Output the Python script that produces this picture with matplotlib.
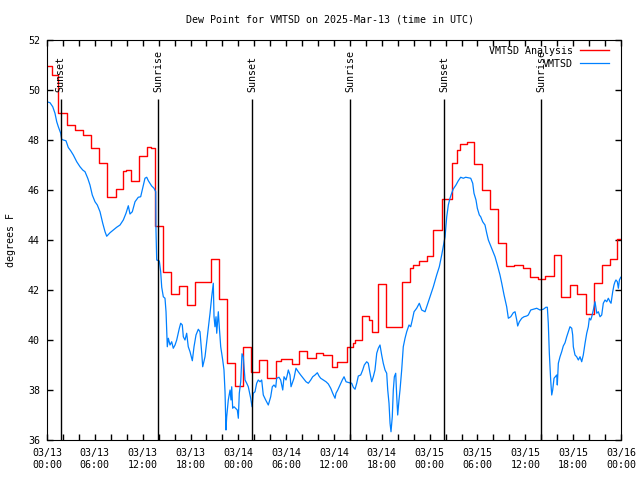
import matplotlib
matplotlib.use('Agg')
import matplotlib.pyplot as plt

# hours since 2025-03-13 00:00 UTC
analysis_t = [0.0, 0.59, 1.42, 2.47, 3.51, 4.55, 5.48, 6.52, 7.56, 8.62, 9.5, 9.91,
              10.5, 11.54, 12.51, 13.01, 13.55, 14.51, 15.52, 16.56, 17.52, 18.56,
              20.53, 21.58, 22.62, 23.58, 24.62, 25.55, 26.59, 27.63, 28.69, 29.31,
              30.69, 31.65, 32.65, 33.71, 34.66, 35.71, 36.41, 37.59, 38.42, 38.63,
              39.47, 40.43, 40.73, 41.56, 42.49, 44.49, 45.53, 45.95, 46.66, 47.63,
              48.46, 49.51, 50.76, 51.39, 51.81, 52.65, 53.56, 54.53, 55.57, 56.57,
              57.58, 58.58, 59.65, 60.63, 61.59, 62.51, 63.6, 64.48, 65.6, 66.44,
              67.57, 68.62, 69.66, 70.62, 71.54, 72.0]
analysis_v = [50.96, 50.59, 49.07, 48.6, 48.4, 48.2, 47.67, 47.07, 45.73, 46.04, 46.77, 46.8,
              46.37, 47.36, 47.71, 47.67, 44.56, 42.73, 41.84, 42.17, 41.4, 42.33,
              43.24, 41.64, 39.07, 38.16, 39.71, 38.7, 39.2, 38.48, 39.15, 39.23,
              39.04, 39.55, 39.28, 39.47, 39.39, 38.93, 39.11, 39.71, 39.87, 40.0,
              40.96, 40.8, 40.33, 42.24, 40.53, 42.33, 42.87, 43.0, 43.17, 43.37,
              44.4, 45.63, 47.09, 47.6, 47.84, 47.91, 47.04, 46.0, 45.24, 43.87,
              42.97, 43.0, 42.87, 42.51, 42.45, 42.55, 43.4, 41.73, 42.2, 41.84,
              41.03, 42.29, 43.0, 43.23, 44.03, 44.03]

obs_t = [0.0, 0.38, 0.72, 1.0, 1.22, 1.42, 1.72, 1.84, 2.04, 2.38, 2.67, 2.97, 3.3, 3.73,
         4.14, 4.48, 4.77, 5.11, 5.39, 5.68, 6.02, 6.31, 6.65, 6.99, 7.28, 7.49, 7.9,
         8.32, 8.74, 9.16, 9.57, 9.91, 10.2, 10.41, 10.7, 11.04, 11.45, 11.75, 12.0,
         12.29, 12.51, 12.71, 13.13, 13.42, 13.64, 13.67, 13.76, 14.09, 14.26, 14.39,
         14.59, 14.8, 14.93, 15.02, 15.09, 15.22, 15.43, 15.64, 15.84, 16.06, 16.27,
         16.6, 16.77, 16.97, 17.1, 17.31, 17.52, 17.72, 17.94, 18.23, 18.44, 18.69,
         18.98, 19.19, 19.41, 19.53, 19.82, 20.03, 20.23, 20.45, 20.66, 20.86, 20.95,
         21.07, 21.2, 21.29, 21.49, 21.61, 21.79, 22.04, 22.2, 22.33, 22.45, 22.54,
         22.74, 22.96, 23.08, 23.17, 23.29, 23.46, 23.87, 24.0, 24.12, 24.3, 24.46,
         24.62, 24.84, 25.05, 25.25, 25.55, 25.72, 25.88, 26.09, 26.3, 26.5, 26.72,
         26.93, 27.13, 27.43, 27.76, 28.06, 28.26, 28.47, 28.69, 28.81, 29.1, 29.31,
         29.57, 29.73, 29.98, 30.14, 30.27, 30.48, 30.61, 30.82, 30.98, 31.23, 31.52,
         31.82, 32.15, 32.49, 32.78, 33.08, 33.33, 33.62, 33.91, 34.12, 34.33, 34.66,
         35.0, 35.29, 35.59, 35.84, 36.13, 36.25, 36.47, 36.75, 37.04, 37.26, 37.51,
         37.92, 38.22, 38.42, 38.64, 38.85, 39.05, 39.35, 39.6, 39.8, 40.1, 40.3,
         40.52, 40.73, 40.93, 41.14, 41.36, 41.56, 41.77, 41.98, 42.18, 42.4, 42.61,
         42.74, 42.9, 43.03, 43.15, 43.31, 43.44, 43.57, 43.74, 43.87, 43.99, 44.15,
         44.28, 44.49, 44.69, 44.91, 45.12, 45.41, 45.62, 45.82, 46.04, 46.37, 46.7,
         47.0, 47.42, 47.7, 48.04, 48.46, 48.88, 49.21, 49.51, 49.93, 50.14, 50.34,
         50.55, 50.76, 50.96, 51.3, 51.59, 51.89, 52.22, 52.52, 52.85, 53.15, 53.4,
         53.56, 53.81, 53.98, 54.23, 54.4, 54.65, 54.94, 55.16, 55.36, 55.78, 56.2,
         56.49, 56.82, 57.04, 57.33, 57.66, 57.87, 58.17, 58.49, 58.71, 58.92, 59.04,
         59.25, 59.55, 59.83, 60.17, 60.37, 60.68, 61.0, 61.43, 61.84, 62.26, 62.59,
         62.76, 62.88, 63.01, 63.18, 63.31, 63.43, 63.6, 63.76, 63.94, 64.01, 64.14,
         64.35, 64.56, 64.76, 64.98, 65.19, 65.39, 65.6, 65.82, 65.94, 66.02, 66.23,
         66.44, 66.65, 66.86, 67.07, 67.27, 67.49, 67.7, 67.9, 68.03, 68.2, 68.33,
         68.53, 68.74, 68.96, 69.16, 69.37, 69.58, 69.78, 70.0, 70.21, 70.41, 70.62,
         70.75, 70.96, 71.12, 71.25, 71.37, 71.54, 71.67, 71.8, 71.97]
obs_v = [49.53, 49.49, 49.33, 49.07, 48.73, 48.53, 48.27, 48.03, 48.0, 47.97, 47.7, 47.57,
         47.4, 47.13, 46.93, 46.8, 46.73, 46.47, 46.2, 45.8, 45.53, 45.4, 45.13, 44.67,
         44.33, 44.15, 44.29, 44.4, 44.51, 44.6, 44.8, 45.07, 45.37, 45.04, 45.13, 45.53,
         45.71, 45.73, 46.07, 46.47, 46.51, 46.37, 46.16, 46.07, 45.93, 44.4, 43.2,
         43.16, 42.73, 42.11, 41.73, 41.67, 41.13, 40.33, 39.73, 40.07, 39.8, 39.93,
         39.67, 39.8, 40.0, 40.47, 40.67, 40.6, 40.13, 40.0, 40.27, 39.73, 39.53, 39.17,
         39.73, 40.2, 40.43, 40.33, 39.47, 38.93, 39.33, 39.93, 40.47, 41.07, 41.73,
         42.27, 40.93, 40.53, 40.93, 40.27, 41.13, 40.53, 39.73, 39.2, 38.8, 37.93, 36.4,
         36.93, 37.6, 38.0, 37.6, 38.13, 37.27, 37.33, 37.2, 36.87, 37.87, 38.33, 39.45,
         39.33, 38.4, 38.27, 38.13, 37.67, 37.33, 37.87, 37.93, 38.27, 38.4, 38.33, 38.4,
         37.8, 37.6, 37.4, 37.73, 38.13, 38.2, 38.11, 38.47, 38.51, 38.4, 38.0, 38.53,
         38.4, 38.6, 38.8, 38.6, 38.13, 38.33, 38.47, 38.87, 38.73, 38.6, 38.47, 38.33,
         38.27, 38.4, 38.53, 38.6, 38.69, 38.56, 38.47, 38.4, 38.33, 38.24, 38.07, 37.87,
         37.67, 37.87, 38.0, 38.2, 38.4, 38.53, 38.33, 38.29, 38.27, 38.11, 38.03, 38.27,
         38.56, 38.6, 38.8, 39.0, 39.13, 39.07, 38.67, 38.33, 38.53, 38.8, 39.47, 39.67,
         39.8, 39.4, 39.07, 38.8, 38.67, 38.0, 37.47, 36.67, 36.33, 36.93, 38.0, 38.53,
         38.67, 37.73, 37.0, 37.6, 38.0, 38.8, 39.73, 40.07, 40.33, 40.6, 40.53, 40.8,
         41.13, 41.27, 41.47, 41.2, 41.13, 41.4, 41.73, 42.13, 42.6, 42.93, 43.4, 44.13,
         44.93, 45.4, 45.67, 45.87, 46.04, 46.2, 46.37, 46.51, 46.47, 46.51, 46.49,
         46.47, 46.27, 45.87, 45.6, 45.27, 45.0, 44.93, 44.73, 44.6, 44.27, 44.0, 43.67,
         43.33, 43.0, 42.6, 42.27, 41.8, 41.33, 40.87, 40.93, 41.09, 41.13, 40.8, 40.56,
         40.73, 40.87, 40.93, 40.96, 41.0, 41.2, 41.23, 41.27, 41.2, 41.23, 41.31, 41.31,
         40.67, 39.47, 38.4, 37.8, 38.0, 38.47, 38.53, 38.6, 38.2, 39.07, 39.33, 39.53,
         39.76, 39.89, 40.13, 40.33, 40.53, 40.47, 40.2, 39.73, 39.4, 39.33, 39.2, 39.33,
         39.13, 39.4, 39.87, 40.27, 40.53, 40.87, 40.8, 40.93, 41.2, 41.53, 41.07, 41.13,
         40.93, 41.0, 41.47, 41.6, 41.53, 41.67, 41.53, 41.47, 41.93, 42.2, 42.33, 42.4,
         42.33, 42.07, 42.4, 42.51]

sun_t = [1.73, 13.93, 25.75, 38.0, 49.8, 62.0]
sun_labels = ['Sunset', 'Sunrise', 'Sunset', 'Sunrise', 'Sunset', 'Sunrise']

tick_hours = list(range(0, 73, 2))
day_labels = ['03/13', '03/13', '03/13', '03/13', '03/14', '03/14', '03/14',
              '03/14', '03/15', '03/15', '03/15', '03/15', '03/16']
hour_labels = ['00:00', '06:00', '12:00', '18:00'] * 3 + ['00:00']

font = 'DejaVu Sans Mono'
fs = 7.2
plt.rcParams['font.family'] = font
plt.rcParams['font.size'] = fs

fig = plt.figure(figsize=(6.4, 4.8), dpi=100)
ax = fig.add_axes([47 / 640, 40 / 480, 574 / 640, 400 / 480])

ax.plot(analysis_t, analysis_v, color='#ff0000', lw=1.0, drawstyle='steps-post',
        label='VMTSD Analysis')
ax.plot(obs_t, obs_v, color='#0080ff', lw=0.9, label='VMTSD')

ax.vlines(sun_t, 36, 49.64, color='black', lw=1.0)
for t, lab in zip(sun_t, sun_labels):
    ax.text(t, 49.9, lab, rotation=90, ha='center', va='bottom', fontsize=fs)

ax.set_xlim(0, 72)
ax.set_ylim(36, 52)
ax.set_xticks(tick_hours)
labels = []
k = 0
for h in tick_hours:
    if h % 6 == 0:
        labels.append(day_labels[k] + '\n' + hour_labels[k])
        k += 1
    else:
        labels.append('')
ax.set_xticklabels(labels)
ax.set_yticks(range(36, 53, 2))
ax.tick_params(direction='in', length=4, width=1, top=True, right=True,
               labelsize=fs)
ax.tick_params(axis='x', pad=6)
ax.tick_params(axis='y', pad=5)
ax.set_ylabel('degrees F', fontsize=fs, labelpad=9)

ax.legend(loc='upper right', bbox_to_anchor=(1 - 5 / 574, 1 + 1 / 400), frameon=False,
          markerfirst=False, handlelength=2.9, handletextpad=0.7,
          labelspacing=0.3, borderaxespad=0.3, fontsize=fs)

fig.text(330 / 640, 1 - 19 / 480, 'Dew Point for VMTSD on 2025-Mar-13 (time in UTC)',
         ha='center', va='center', fontsize=fs)

fig.savefig('out.png', dpi=100)
